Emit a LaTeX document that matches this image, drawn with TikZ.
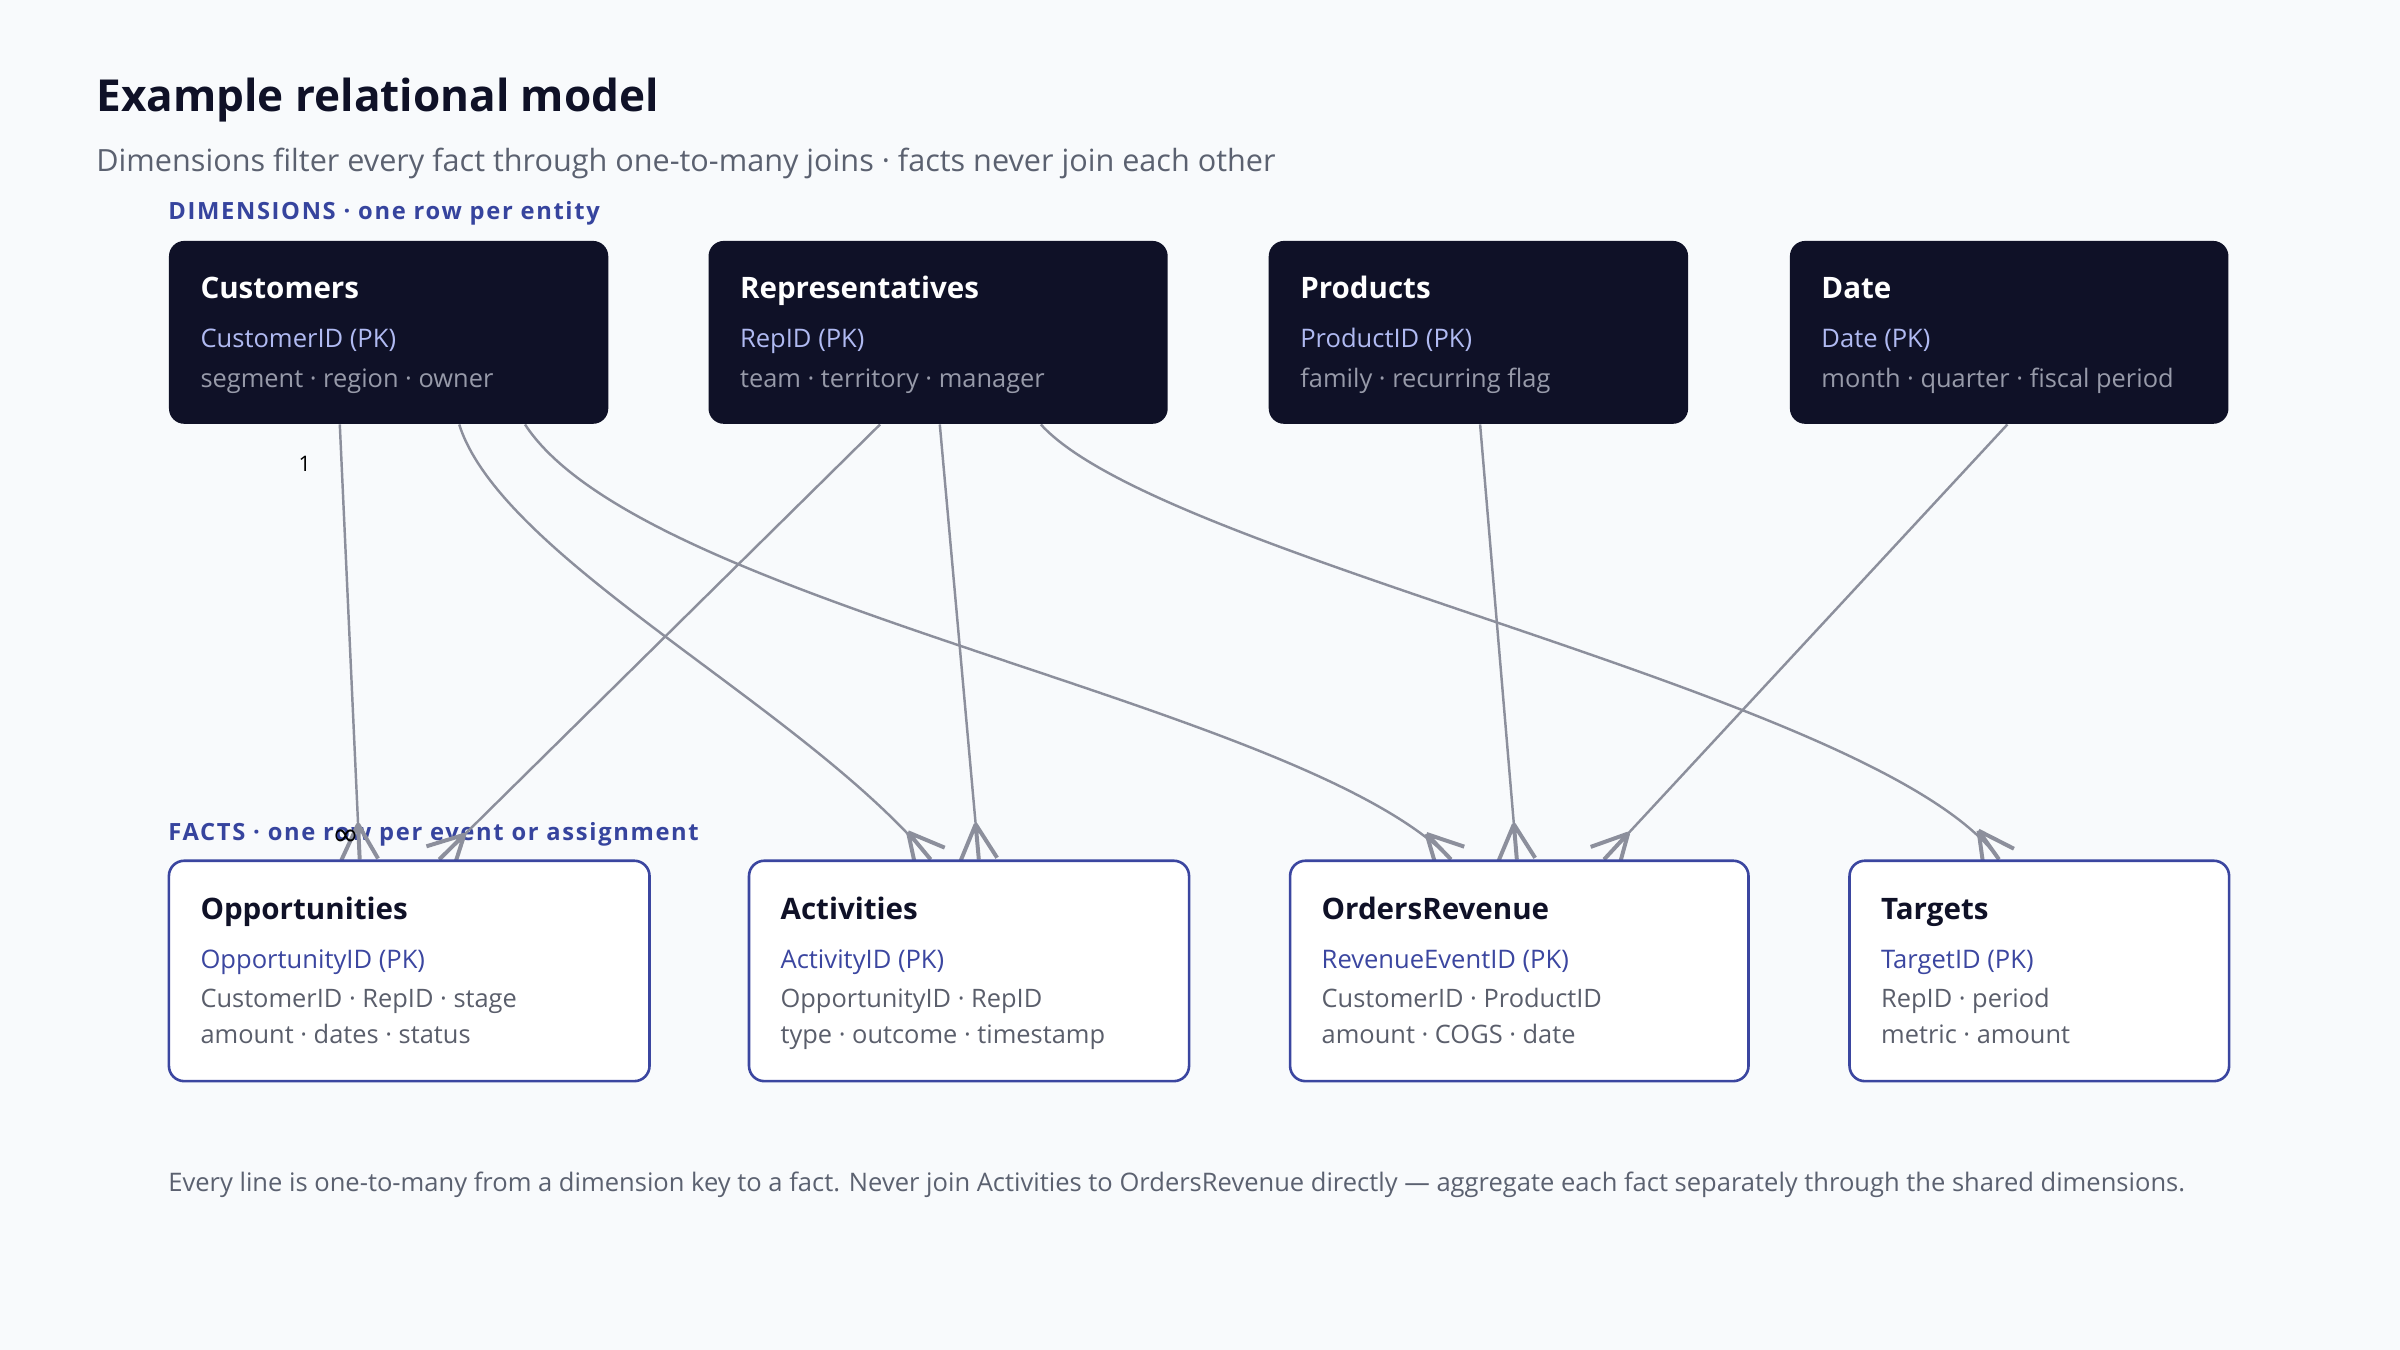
\documentclass[tikz,border=0pt]{standalone}
\usepackage{fontspec}
\setmainfont{Open Sans}
\newfontfamily\symfont{DejaVu Sans}
\usetikzlibrary{decorations.markings,calc}
\pgfdeclarelayer{bg}
\pgfdeclarelayer{edges}
\pgfsetlayers{bg,edges,main}
\definecolor{pagebg}{HTML}{F8FAFC}
\definecolor{dark}{HTML}{0F1127}
\definecolor{ink}{HTML}{0F1127}
\definecolor{subgrey}{HTML}{5B6170}
\definecolor{secblue}{HTML}{36449E}
\definecolor{factblue}{HTML}{3B46A0}
\definecolor{pklight}{HTML}{B0BAF2}
\definecolor{dimattr}{HTML}{979AA9}
\definecolor{factattr}{HTML}{5A5E6B}
\definecolor{linkgrey}{HTML}{8C8F9C}
\tikzset{
  txt/.style={anchor=base west, inner sep=0pt, outer sep=0pt},
  dimbox/.style={fill=dark, rounded corners=5pt, inner sep=0pt, anchor=north west, minimum height=59.75pt},
  factbox/.style={fill=white, draw=factblue, line width=0.85pt, rounded corners=5pt, inner sep=0pt, anchor=north west, minimum height=72pt},
  dimtitle/.style={txt, text=white, font=\fontsize{9.65}{11}\selectfont\bfseries},
  dimpk/.style={txt, text=pklight, font=\fontsize{8.35}{9}\selectfont},
  dimattr/.style={txt, text=dimattr, font=\fontsize{8.3}{9}\selectfont},
  facttitle/.style={txt, text=ink, font=\fontsize{9.65}{11}\selectfont\bfseries},
  factpk/.style={txt, text=factblue, font=\fontsize{8.35}{9}\selectfont},
  factattr/.style={txt, text=factattr, font=\fontsize{8.3}{9}\selectfont},
  seclabel/.style={txt, text=secblue, font=\fontsize{7.75}{9}\selectfont\bfseries\addfontfeatures{LetterSpace=7}},
  link/.style={draw=linkgrey, line width=0.8pt, postaction=decorate,
    decoration={markings, mark=at position 0.9999 with {\draw[draw=linkgrey, line width=1.3pt] (-11.5pt,0pt) -- (0pt,6pt) (-11.5pt,0pt) -- (0pt,0pt) (-11.5pt,0pt) -- (0pt,-6pt);}}},
  cardlabel/.style={inner sep=0pt, text=black, font=\fontsize{7}{8}\selectfont}
}
\begin{document}
\begin{tikzpicture}[x=0.5pt,y=-0.5pt]
\path[use as bounding box] (0,0) rectangle (1568,882);
\begin{pgfonlayer}{bg}
\fill[pagebg] (0,0) rectangle (1568,882);
\node[seclabel] (dimlabel) at (110,143.7) {DIMENSIONS · one row per entity};
\node[seclabel] (factlabel) at (110,548.8) {FACTS · one row per event or assignment};
\end{pgfonlayer}

\node[txt, text=ink, font=\fontsize{14.4}{17}\selectfont\bfseries] (title) at (63,73) {Example relational model};
\node[txt, text=subgrey, font=\fontsize{10}{12}\selectfont] (subtitle) at (63,112) {Dimensions filter every fact through one-to-many joins · facts never join each other};

% dimension boxes
\node[dimbox, minimum width=143.5pt] (cust) at (110,157) {};
\node[dimbox, minimum width=150pt] (rep) at (462.5,157) {};
\node[dimbox, minimum width=137pt] (prod) at (828.5,157) {};
\node[dimbox, minimum width=143.25pt] (date) at (1169,157) {};

\node[dimtitle] (custT) at ($(cust.north west)+(21,38)$) {Customers};
\node[dimpk] (custK) at ($(cust.north west)+(21,70)$) {CustomerID (PK)};
\node[dimattr] (custA) at ($(cust.north west)+(21,96)$) {segment · region · owner};

\node[dimtitle] (repT) at ($(rep.north west)+(21,38)$) {Representatives};
\node[dimpk] (repK) at ($(rep.north west)+(21,70)$) {RepID (PK)};
\node[dimattr] (repA) at ($(rep.north west)+(21,96)$) {team · territory · manager};

\node[dimtitle] (prodT) at ($(prod.north west)+(21,38)$) {Products};
\node[dimpk] (prodK) at ($(prod.north west)+(21,70)$) {ProductID (PK)};
\node[dimattr] (prodA) at ($(prod.north west)+(21,96)$) {family · recurring flag};

\node[dimtitle] (dateT) at ($(date.north west)+(21,38)$) {Date};
\node[dimpk] (dateK) at ($(date.north west)+(21,70)$) {Date (PK)};
\node[dimattr] (dateA) at ($(date.north west)+(21,96)$) {month · quarter · fiscal period};

% fact boxes
\node[factbox, minimum width=157pt] (opp) at (109.5,561.5) {};
\node[factbox, minimum width=143.75pt] (act) at (488.5,561.5) {};
\node[factbox, minimum width=149.75pt] (ord) at (842,561.5) {};
\node[factbox, minimum width=124pt] (tgt) at (1207.5,561.5) {};

\node[facttitle] (oppT) at ($(opp.north west)+(21.5,39.5)$) {Opportunities};
\node[factpk] (oppK) at ($(opp.north west)+(21.5,71)$) {OpportunityID (PK)};
\node[factattr] (oppA) at ($(opp.north west)+(21.5,97)$) {CustomerID · RepID · stage};
\node[factattr] (oppB) at ($(opp.north west)+(21.5,120)$) {amount · dates · status};

\node[facttitle] (actT) at ($(act.north west)+(21.5,39.5)$) {Activities};
\node[factpk] (actK) at ($(act.north west)+(21.5,71)$) {ActivityID (PK)};
\node[factattr] (actA) at ($(act.north west)+(21.5,97)$) {OpportunityID · RepID};
\node[factattr] (actB) at ($(act.north west)+(21.5,120)$) {type · outcome · timestamp};

\node[facttitle] (ordT) at ($(ord.north west)+(21.5,39.5)$) {OrdersRevenue};
\node[factpk] (ordK) at ($(ord.north west)+(21.5,71)$) {RevenueEventID (PK)};
\node[factattr] (ordA) at ($(ord.north west)+(21.5,97)$) {CustomerID · ProductID};
\node[factattr] (ordB) at ($(ord.north west)+(21.5,120)$) {amount · COGS · date};

\node[facttitle] (tgtT) at ($(tgt.north west)+(21.5,39.5)$) {Targets};
\node[factpk] (tgtK) at ($(tgt.north west)+(21.5,71)$) {TargetID (PK)};
\node[factattr] (tgtA) at ($(tgt.north west)+(21.5,97)$) {RepID · period};
\node[factattr] (tgtB) at ($(tgt.north west)+(21.5,120)$) {metric · amount};

% connectors
\begin{pgfonlayer}{edges}
\draw[link] ([xshift=56pt]cust.south west) -- ([xshift=62.75pt]opp.north west)
  node[cardlabel, pos=0.09, xshift=-12pt] (one) {1}
  node[cardlabel, pos=0.95, xshift=-4.2pt, font=\fontsize{10.5}{11}\selectfont] (many) {\symfont ∞};
\draw[link] ([xshift=95pt]cust.south west) .. controls +(28,88) and +(-83,-100) .. ([xshift=59.75pt]act.north west);
\draw[link] ([xshift=116.5pt]cust.south west) .. controls +(77,118) and +(-98,-102) .. ([xshift=53pt]ord.north west);
\draw[link] ([xshift=56.25pt]rep.south west) -- ([xshift=88.75pt]opp.north west);
\draw[link] ([xshift=75.75pt]rep.south west) -- ([xshift=75.5pt]act.north west);
\draw[link] ([xshift=108.75pt]rep.south west) .. controls +(80,88) and +(-76,-107) .. ([xshift=49.25pt]tgt.north west);
\draw[link] ([xshift=69.25pt]prod.south west) -- ([xshift=74.5pt]ord.north west);
\draw[link] ([xshift=71.25pt]date.south west) -- ([xshift=103pt]ord.north west);
\end{pgfonlayer}

\node[txt, text=subgrey, font=\fontsize{8.34}{10}\selectfont] (footer) at (110,778.6) {Every line is one-to-many from a dimension key to a fact. Never join Activities to OrdersRevenue directly — aggregate each fact separately through the shared dimensions.};
\end{tikzpicture}
\end{document}
